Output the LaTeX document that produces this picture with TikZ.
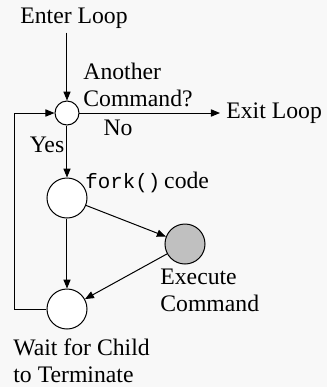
\documentclass[tikz,border=0pt]{standalone}
\usepackage{fontspec}
\setmainfont{Liberation Serif}
\setmonofont{Liberation Mono}
\usetikzlibrary{arrows.meta}
\definecolor{bgcol}{RGB}{248,248,248}
\definecolor{execfill}{RGB}{192,192,192}
\tikzset{
  lbl/.style={inner sep=0pt, font=\fontsize{11.85}{13.6}\selectfont},
  small/.style={circle, draw, fill=white, line width=0.5pt, minimum size=12pt, inner sep=0pt},
  big/.style={circle, draw, fill=white, line width=0.5pt, minimum size=20pt, inner sep=0pt},
  arr/.style={line width=0.5pt, -{Triangle[length=4.5pt,width=3.6pt]}},
  plain/.style={line width=0.5pt}
}
\begin{document}
\begin{tikzpicture}[x=0.5pt, y=-0.5pt]
  \fill[bgcol] (0,0) rectangle (327,387);
  \useasboundingbox (0,0) rectangle (327,387);

  % states
  \node[small] (dec) at (67,113) {};
  \node[big] (fork) at (67,198) {};
  \node[big, fill=execfill] (exec) at (185,244) {};
  \node[big] (wait) at (67,309) {};

  % labels
  \node[lbl] (enter) at (74,18) {Enter Loop};
  \node[lbl, anchor=west, align=left] (ask) at (83,85) {Another\\Command?};
  \node[lbl, anchor=west] (exit) at (226,113) {Exit Loop};
  \node[lbl] (no) at (118,128) {No};
  \node[lbl] (yes) at (47,145) {Yes};
  \node[lbl, anchor=west] (forklbl) at (85,182) {{\ttfamily\fontsize{10.4}{12}\selectfont fork()}\,code};
  \node[lbl, anchor=west, align=left] (execlbl) at (160,290) {Execute\\Command};
  \node[lbl, anchor=west, align=left] (waitlbl) at (13,361) {Wait for Child\\to Terminate};

  \coordinate (back) at (15,309);

  % connectors
  \draw[arr, shorten <=2pt] (dec |- enter.south) -- (dec);
  \draw[arr, shorten >=3pt] (dec) -- (exit);
  \draw[arr] (dec) -- (fork);
  \draw[arr] (fork) -- (exec);
  \draw[arr] (fork) -- (wait);
  \draw[arr] (exec) -- (wait);
  \draw[arr] (wait) -- (back) |- (dec);
\end{tikzpicture}
\end{document}
